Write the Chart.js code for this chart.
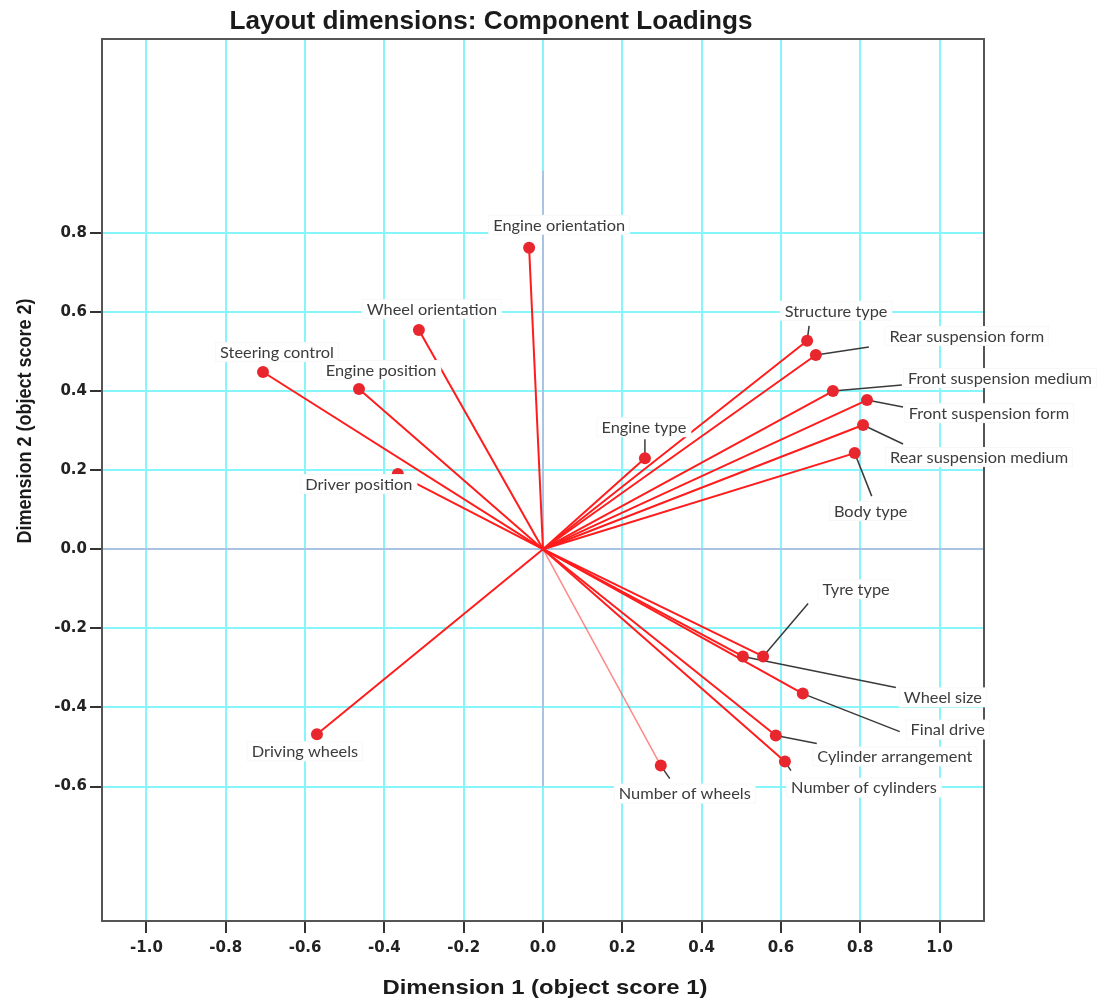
<!DOCTYPE html>
<html>
<head>
<meta charset="utf-8">
<title>Layout dimensions: Component Loadings</title>
<script src="https://cdn.jsdelivr.net/npm/chart.js@4.4.1/dist/chart.umd.min.js"></script>
<style>
  html, body { margin: 0; padding: 0; background: #fff; }
  canvas { display: block; }
</style>
</head>
<body>
<canvas id="loadings" width="1109" height="1005"></canvas>
<script>
// component loadings
const variables = [
  "Engine orientation", "Wheel orientation", "Steering control", "Engine position",
  "Driver position", "Engine type", "Structure type", "Rear suspension form",
  "Front suspension medium", "Front suspension form", "Rear suspension medium", "Body type",
  "Tyre type", "Wheel size", "Final drive", "Cylinder arrangement",
  "Number of cylinders", "Number of wheels", "Driving wheels"
];
const dim1 = [-0.035, -0.313, -0.706, -0.464, -0.366, 0.257, 0.666, 0.688, 0.731, 0.817, 0.807, 0.786,
              0.555, 0.504, 0.655, 0.587, 0.610, 0.297, -0.570];
const dim2 = [0.762, 0.554, 0.448, 0.405, 0.190, 0.230, 0.527, 0.491, 0.400, 0.377, 0.314, 0.243,
              -0.271, -0.271, -0.365, -0.471, -0.537, -0.547, -0.468];

const xTicks = [-1.0, -0.8, -0.6, -0.4, -0.2, 0.0, 0.2, 0.4, 0.6, 0.8, 1.0];
const yTicks = [-0.6, -0.4, -0.2, 0.0, 0.2, 0.4, 0.6, 0.8];
const zeroLineSpan = [-0.6, 0.957];   // extent of the vertical reference line at x = 0

// label placement, in pixels relative to each point (label centre, leader end)
const labelOffset = [[30,-23],[13,-21],[14,-20],[22,-19],[-39,10],[-1,-31],[29,-30],[151,-19],
  [167,-13],[122,13],[116,32],[16,58],[93,-67],[200,41],[145,36],[119,21],[79,26],[24,28],[-12,17]];
const leaderEnd = [null,null,null,null,null,[0,-19],[2,-15],[53,-8],
  [69,-6],[36,7],[40,19],[17,43],[45,-53],[153,31],[97,38],[41,8],[6,9],[9,13],null];

const CYAN = "#86f6fa";
const ZERO_BLUE = "#a9c3e2";
const LABEL_STRETCH = 1.09;

const datasets = variables.map((name, i) => {
  const faint = name === "Number of wheels";
  return {
    label: name,
    data: [{x: 0, y: 0}, {x: dim1[i], y: dim2[i]}],
    showLine: true,
    borderColor: faint ? "rgba(255,40,40,0.55)" : "#ff1c1c",
    borderWidth: faint ? 1.5 : 2,
    pointRadius: c => c.dataIndex === 1 ? 6 : 0,
    pointBackgroundColor: "#e8262d",
    pointBorderColor: "#e8262d",
    pointBorderWidth: 0
  };
});

function stretchedText(ctx, text, x, y, font, width, rotate){
  ctx.save();
  ctx.font = font;
  const k = width / ctx.measureText(text).width;
  ctx.translate(x, y);
  if(rotate) ctx.rotate(-Math.PI / 2);
  ctx.scale(k, 1);
  ctx.textAlign = "center";
  ctx.textBaseline = "middle";
  ctx.fillText(text, 0, 0);
  ctx.restore();
}

const decorations = {
  id: "decorations",
  beforeDatasetsDraw(chart){
    const {ctx, chartArea: a, scales: {x, y}} = chart;
    ctx.save();
    // blue reference line at x = 0
    ctx.strokeStyle = ZERO_BLUE;
    ctx.lineWidth = 2;
    ctx.beginPath();
    ctx.moveTo(x.getPixelForValue(0), y.getPixelForValue(zeroLineSpan[1]));
    ctx.lineTo(x.getPixelForValue(0), y.getPixelForValue(zeroLineSpan[0]));
    ctx.stroke();
    // top and right frame
    ctx.strokeStyle = "#555";
    ctx.lineWidth = 2;
    ctx.beginPath();
    ctx.moveTo(a.left, a.top);
    ctx.lineTo(a.right, a.top);
    ctx.lineTo(a.right, a.bottom);
    ctx.stroke();
    // leader lines (under the points)
    ctx.strokeStyle = "#3a3a3a";
    ctx.lineWidth = 1.5;
    variables.forEach((_, i) => {
      if(!leaderEnd[i]) return;
      const p = chart.getDatasetMeta(i).data[1];
      ctx.beginPath();
      ctx.moveTo(p.x, p.y);
      ctx.lineTo(p.x + leaderEnd[i][0], p.y + leaderEnd[i][1]);
      ctx.stroke();
    });
    ctx.restore();
  },
  afterDatasetsDraw(chart){
    const ctx = chart.ctx;
    ctx.save();
    ctx.font = "15px Lato";
    ctx.textBaseline = "middle";
    variables.forEach((name, i) => {
      const p = chart.getDatasetMeta(i).data[1];
      const cx = p.x + labelOffset[i][0], cy = p.y + labelOffset[i][1];
      const tw = ctx.measureText(name).width * LABEL_STRETCH;
      const w = tw + 10;
      ctx.fillStyle = "#fff";
      ctx.fillRect(cx - w / 2, cy - 10, w, 20);
      ctx.strokeStyle = "rgba(0,0,0,0.03)";
      ctx.lineWidth = 1;
      ctx.strokeRect(cx - w / 2 + 0.5, cy - 9.5, w - 1, 19);
      ctx.save();
      ctx.translate(cx - tw / 2, cy + 1);
      ctx.scale(LABEL_STRETCH, 1);
      ctx.fillStyle = "#3c3c3c";
      ctx.textAlign = "left";
      ctx.fillText(name, 0, 0);
      ctx.restore();
    });
    ctx.fillStyle = "#1a1a1a";
    stretchedText(ctx, "Layout dimensions: Component Loadings", 491, 22, "bold 26px 'Liberation Sans'", 523);
    stretchedText(ctx, "Dimension 1 (object score 1)", 545, 988, "bold 21px 'Liberation Sans'", 325);
    stretchedText(ctx, "Dimension 2 (object score 2)", 25, 421, "bold 20px 'Liberation Sans'", 245, true);
    ctx.restore();
  }
};

const tickFont = {family: "'DejaVu Sans'", size: 15, weight: "bold"};

new Chart(document.getElementById("loadings").getContext("2d"), {
  type: "scatter",
  data: {datasets},
  options: {
    responsive: false,
    animation: false,
    layout: {padding: {top: 39, right: 125, left: 0, bottom: 0}},
    plugins: {legend: {display: false}, tooltip: {enabled: false}, title: {display: false}},
    scales: {
      x: {
        type: "linear", min: -1.112, max: 1.112,
        afterBuildTicks: s => { s.ticks = xTicks.map(v => ({value: v})); },
        afterFit: s => { s.height = 84; },
        grid: {color: CYAN, lineWidth: 2, tickColor: "#333", tickLength: 12, tickWidth: 2},
        border: {color: "#555", width: 2},
        ticks: {font: tickFont, color: "#222", padding: 6, maxRotation: 0, callback: v => v.toFixed(1)}
      },
      y: {
        type: "linear", min: -0.94, max: 1.29,
        afterBuildTicks: s => { s.ticks = yTicks.map(v => ({value: v})); },
        afterFit: s => { s.width = 102; },
        grid: {
          color: c => (c.tick && Math.abs(c.tick.value) < 1e-9) ? ZERO_BLUE : CYAN,
          lineWidth: 2, tickColor: "#333", tickLength: 12, tickWidth: 2
        },
        border: {color: "#555", width: 2},
        ticks: {font: tickFont, color: "#222", padding: 3, callback: v => v.toFixed(1)}
      }
    }
  },
  plugins: [decorations]
});
</script>
</body>
</html>
